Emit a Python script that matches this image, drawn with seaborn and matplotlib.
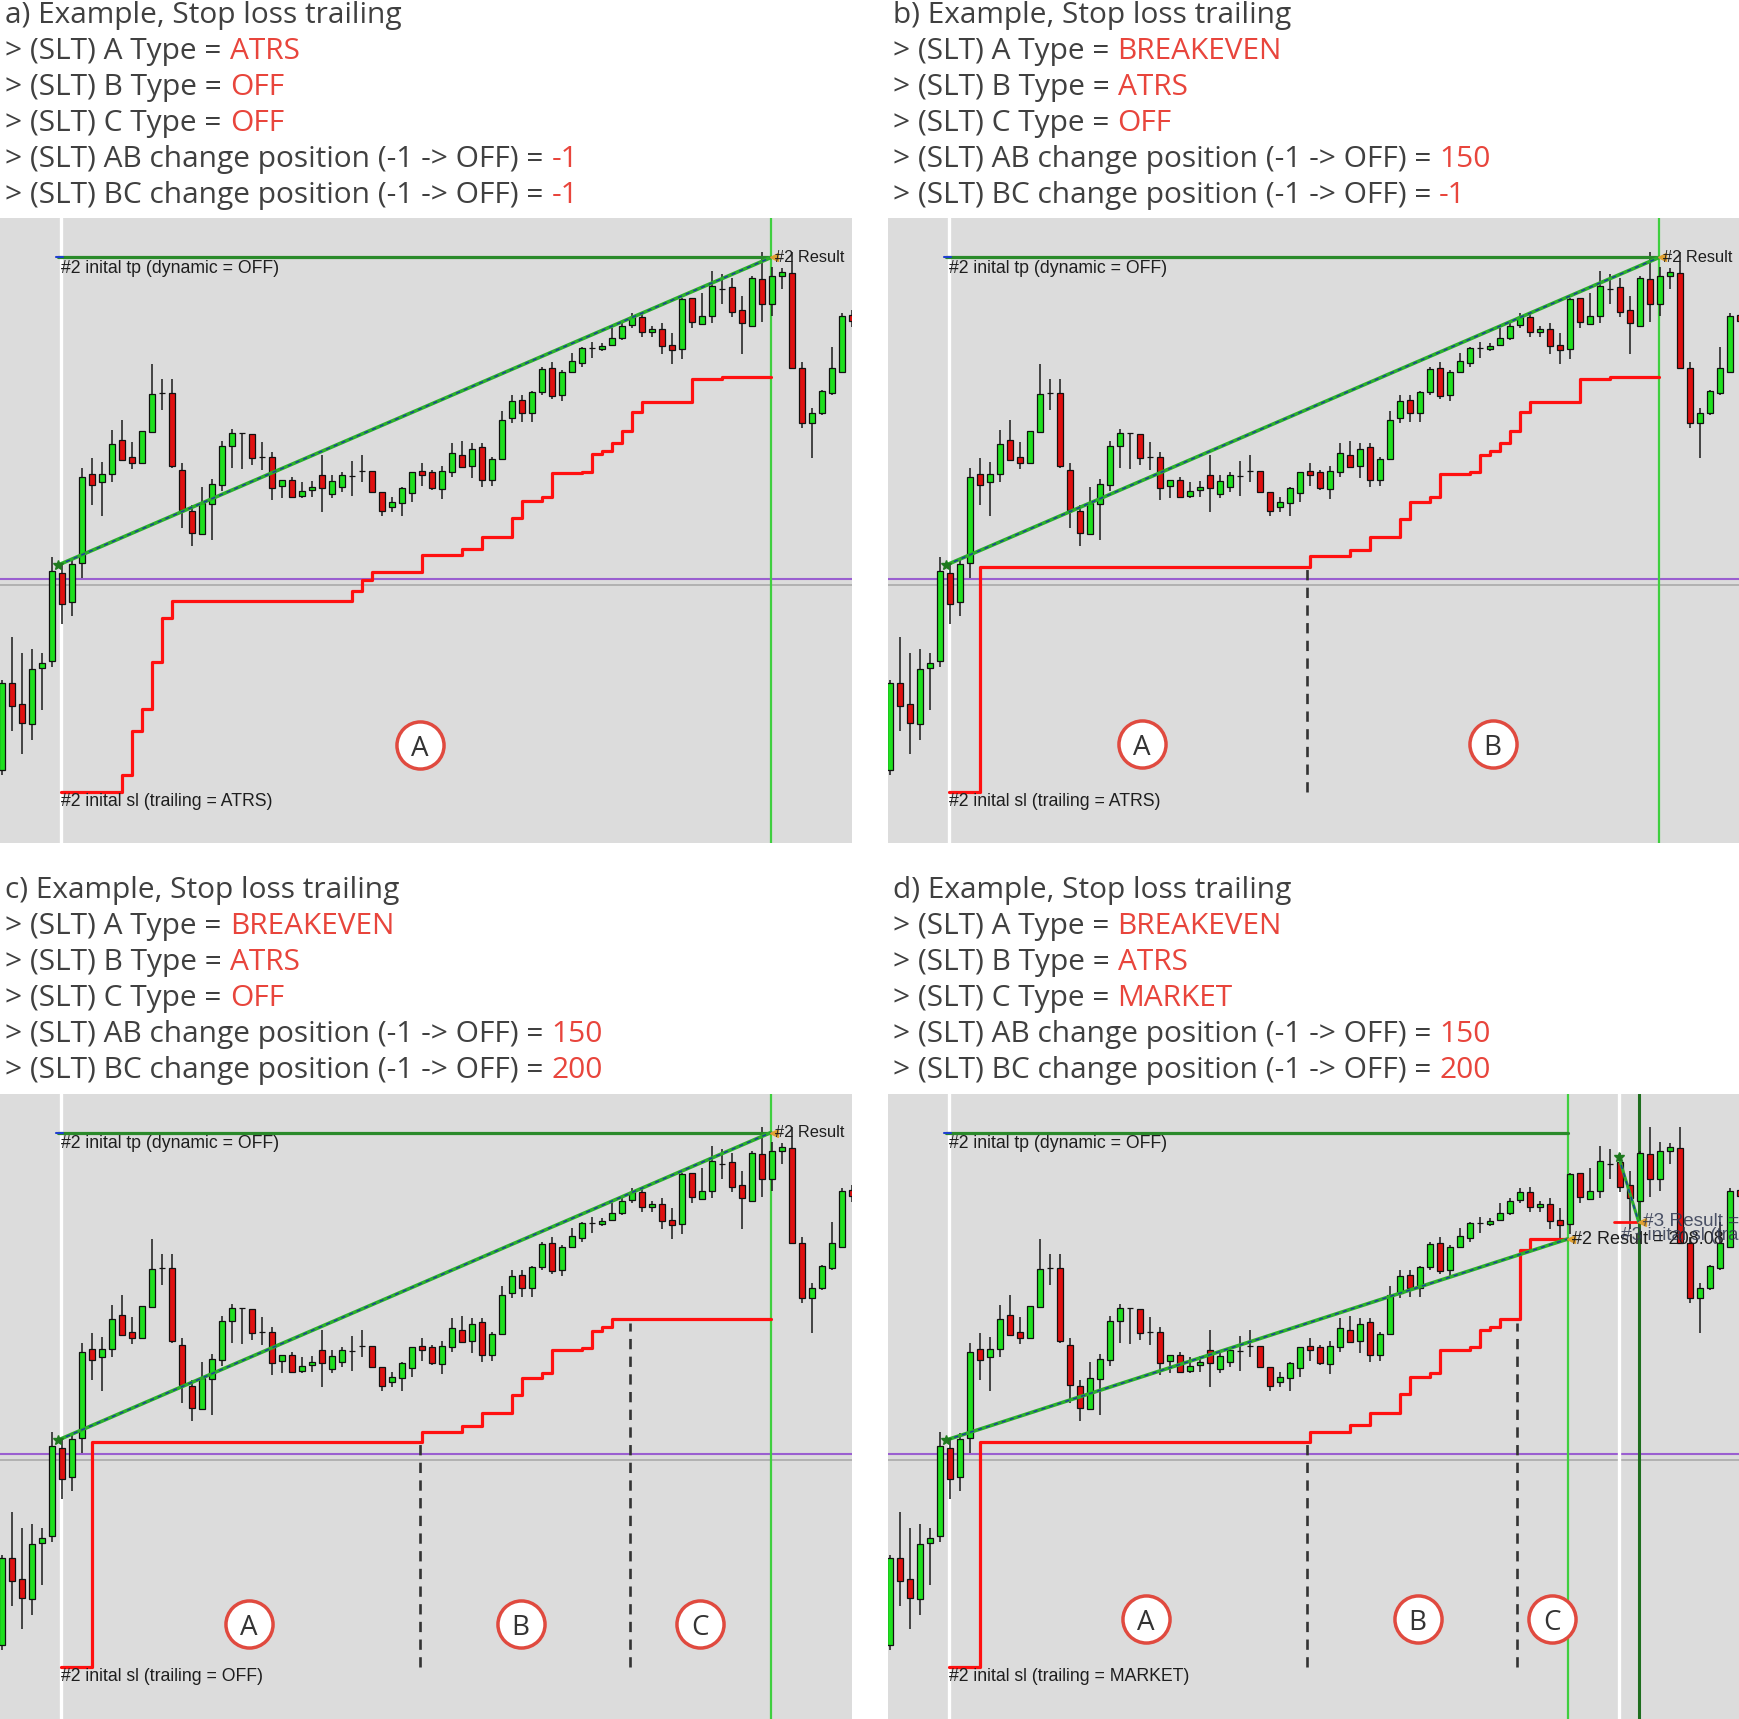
import numpy as np
import pandas as pd
import matplotlib
matplotlib.use("Agg")
import matplotlib.pyplot as plt
import seaborn as sns

W, H, DPI = 1740, 1719, 100

# ---------------- data (price levels) ----------------
bar_open = [72, 159, 138, 118, 174, 181, 269, 240, 279, 368,
            360, 368, 402, 385, 379, 410, 449, 449, 372, 331,
            308, 338, 357, 396, 409, 408, 385, 385, 356, 362,
            346, 352, 367, 348, 355, 366, 371, 371, 350, 335,
            339, 349, 371, 370, 353, 370, 387, 376, 395, 362,
            383, 424, 442, 429, 450, 474, 447, 470, 479, 494,
            493, 497, 504, 517, 525, 510, 513, 497, 493, 544,
            518, 526, 553, 555, 532, 516, 563, 538, 566, 569,
            474, 419, 429, 449, 470, 527]
bar_high = [162, 205, 189, 193, 189, 285, 277, 284, 374, 384,
            380, 412, 422, 400, 411, 478, 463, 463, 379, 337,
            355, 363, 401, 413, 409, 408, 400, 390, 362, 365,
            360, 361, 387, 367, 370, 381, 387, 371, 350, 345,
            355, 370, 379, 372, 376, 399, 401, 399, 399, 385,
            431, 447, 447, 451, 475, 480, 472, 489, 495, 500,
            499, 514, 519, 529, 530, 516, 519, 509, 544, 544,
            549, 571, 568, 564, 546, 566, 590, 575, 574, 590,
            480, 434, 452, 495, 529, 532]
bar_low = [67, 111, 88, 102, 132, 175, 218, 226, 264, 337,
           326, 360, 382, 373, 379, 410, 432, 374, 314, 296,
           307, 302, 351, 374, 373, 377, 372, 342, 344, 345,
           344, 345, 330, 344, 350, 346, 360, 350, 326, 330,
           326, 340, 356, 352, 343, 365, 375, 364, 355, 356,
           383, 419, 420, 420, 447, 443, 441, 470, 475, 484,
           491, 497, 502, 514, 505, 505, 488, 478, 483, 514,
           517, 519, 538, 525, 488, 516, 520, 526, 553, 474,
           414, 384, 427, 447, 470, 515]
bar_close = [159, 136, 119, 173, 179, 271, 238, 278, 365, 357,
             368, 398, 382, 379, 411, 448, 449, 376, 332, 309,
             339, 358, 396, 409, 409, 384, 385, 354, 362, 345,
             351, 355, 354, 361, 367, 366, 371, 350, 331, 340,
             354, 370, 367, 354, 371, 389, 375, 393, 362, 383,
             422, 441, 429, 450, 473, 446, 470, 481, 494, 494,
             496, 504, 516, 525, 510, 513, 496, 492, 543, 520,
             526, 556, 553, 530, 519, 564, 538, 566, 570, 474,
             419, 429, 451, 474, 526, 521]

tp_level = 584.5
entry_bar = 5.66
entry_price = 277
start_bar = 5.93          # white vertical line
exit_bar_abc = 76.93
exit_bar_d = 67.8
exit_price_d = 478
purple_level = 263.2
gray_level = 257

sl_a_bar = [5.93, 12, 13, 14, 15, 16, 17, 35, 36, 37, 42, 46, 48, 51, 52, 54, 55,
            58, 59, 60, 61, 62, 63, 64, 69, 72, 76.93]
sl_a_lvl = [50, 67, 111, 133, 180, 224, 241, 251, 262, 270, 287, 293, 305, 324, 341,
            345, 369, 370, 388, 391, 399, 411, 430, 440, 463, 465, 465]
sl_b_bar = [5.93, 9, 42, 46, 48, 51, 52, 54, 55, 58, 59, 60, 61, 62, 63, 64, 69, 72, 76.93]
sl_b_lvl = [50, 275, 286, 292, 305, 323, 340, 345, 368, 370, 387, 391, 399, 411, 430,
            440, 463, 465, 465]
sl_c_bar = [5.93, 9, 42, 46, 48, 51, 52, 54, 55, 58, 59, 60, 61, 76.93]
sl_c_lvl = [50, 275, 285, 291, 304, 322, 339, 344, 367, 369, 386, 390, 398, 398]
sl_d_bar = [5.93, 9, 42, 46, 48, 51, 52, 54, 55, 58, 59, 60, 61, 63, 64, 67.8]
sl_d_lvl = [50, 275, 285, 292, 304, 323, 340, 344, 367, 370, 387, 390, 398, 467, 478, 478]

dash_b = [41.7]
dash_c = [41.8, 62.8]
dash_d = [41.7, 62.7]
dash_tops = [274, 394]
dash_bottom = 50

circles_a = [("A", 41.8, 97)]
circles_b = [("A", 25.2, 98), ("B", 60.3, 98)]
circles_c = [("A", 24.7, 93), ("B", 51.9, 93), ("C", 69.8, 93)]
circles_d = [("A", 25.6, 98), ("B", 52.8, 98), ("C", 66.2, 98)]

titles = ["a) Example, Stop loss trailing", "b) Example, Stop loss trailing",
          "c) Example, Stop loss trailing", "d) Example, Stop loss trailing"]
param_labels = ["> (SLT) A Type =", "> (SLT) B Type =", "> (SLT) C Type =",
                "> (SLT) AB change position (-1 -> OFF) =",
                "> (SLT) BC change position (-1 -> OFF) ="]
values_a = ["ATRS", "OFF", "OFF", "-1", "-1"]
values_b = ["BREAKEVEN", "ATRS", "OFF", "150", "-1"]
values_c = ["BREAKEVEN", "ATRS", "OFF", "150", "200"]
values_d = ["BREAKEVEN", "ATRS", "MARKET", "150", "200"]
sl_labels = ["#2 inital sl (trailing = ATRS)", "#2 inital sl (trailing = ATRS)",
             "#2 inital sl (trailing = OFF)", "#2 inital sl (trailing = MARKET)"]

# trade #3 (panel d only)
t3_entry_bar, t3_entry_price = 72.9, 560
t3_exit_bar, t3_exit_price = 74.9, 495
t3_sl_start, t3_sl_end = 72.4, 74.7

# ---------------- styling ----------------
sns.set_theme(style="white")
plt.rcParams['font.family'] = ['Open Sans', 'DejaVu Sans']

GRAY_TXT = '#404040'
RED_TXT = '#e8453c'
BG = '#dcdcdc'
UP = '#1ee01e'
DN = '#e01010'

fig = plt.figure(figsize=(W / DPI, H / DPI), dpi=DPI)
fig.patch.set_facecolor('white')

tax = fig.add_axes([0, 0, 1, 1], zorder=-5)
tax.set_xlim(0, W)
tax.set_ylim(H, 0)
tax.axis('off')
tax.patch.set_alpha(0)

candles = pd.DataFrame({"bar": np.arange(len(bar_open)), "open": bar_open,
                        "high": bar_high, "low": bar_low, "close": bar_close})

HFS = 21.5
LFS = 12.7
RFS = 11.8


def header(x0, y0, title, values):
    tax.text(x0, y0, title, fontsize=HFS, color=GRAY_TXT, va='center', ha='left')
    for k, (lab, val) in enumerate(zip(param_labels, values)):
        y = y0 + 35.9 * (k + 1)
        t = tax.text(x0, y, lab, fontsize=HFS, color=GRAY_TXT, va='center', ha='left')
        tax.annotate(val, xy=(1, 0.5), xycoords=t, xytext=(0.26 * HFS, 0),
                     textcoords='offset points', fontsize=HFS, color=RED_TXT,
                     va='center', ha='left')


def panel(left, top, height, ylo, sl_bar, sl_lvl, dashes, circles, sl_label,
          exit_bar, exit_price, is_d=False):
    ax = fig.add_axes([left / W, 1 - (top + height) / H, 852 / W, height / H])
    ax.set_facecolor(BG)
    ax.set_xlim(-0.17, 85.03)
    ax.set_ylim(ylo, ylo + height)
    ax.set_xticks([])
    ax.set_yticks([])
    for s in ax.spines.values():
        s.set_visible(False)

    # horizontal price lines
    ax.axhline(gray_level, color='#a6a6a6', lw=1.1, zorder=1)
    ax.axhline(purple_level, color='#9a5fd0', lw=1.5, zorder=1.1)
    # vertical lines
    ax.axvline(start_bar, color='white', lw=2.4, zorder=1.2)
    ax.axvline(exit_bar, color='#3fcf3f', lw=1.6, zorder=1.3)
    if is_d:
        ax.axvline(t3_entry_bar, color='white', lw=2.4, zorder=1.2)
        ax.axvline(t3_exit_bar, color='#1e6e1e', lw=2.2, zorder=1.3)

    # candles
    ax.vlines(candles["bar"], candles["low"], candles["high"], color='#1a1a1a',
              lw=1.1, zorder=2)
    bottoms = np.minimum(candles["open"], candles["close"])
    heights = np.abs(candles["close"] - candles["open"])
    cols = [UP if c > o else (DN if c < o else '#1a1a1a')
            for o, c in zip(candles["open"], candles["close"])]
    ax.bar(candles["bar"], heights, bottom=bottoms, width=0.6, color=cols,
           edgecolor='#111111', linewidth=0.9, zorder=2.2)

    # take profit line
    tp_df = pd.DataFrame({"x": [entry_bar, exit_bar], "y": [tp_level, tp_level]})
    sns.lineplot(data=tp_df, x="x", y="y", color='#2a8a2a', lw=2.3, ax=ax, zorder=3)
    ax.plot([entry_bar - 0.2, entry_bar + 0.5], [tp_level, tp_level], color='#2040d0',
            lw=1.5, zorder=3.1)
    ax.text(entry_bar + 0.3, tp_level - 11, "#2 inital tp (dynamic = OFF)",
            fontsize=LFS, color='#1e1e1e', family='Liberation Sans', va='center',
            ha='left', zorder=5)

    # stop loss trailing line
    sl_df = pd.DataFrame({"x": sl_bar, "y": sl_lvl})
    sns.lineplot(data=sl_df, x="x", y="y", color='#ff1010', lw=2.3,
                 drawstyle='steps-post', ax=ax, zorder=3.5)
    ax.text(entry_bar + 0.3, 41, sl_label, fontsize=LFS, color='#1e1e1e',
            family='Liberation Sans', va='center', ha='left', zorder=5)

    # trade line #2
    ax.plot([entry_bar, exit_bar], [entry_price, exit_price], color='#2bb02b',
            lw=2.6, zorder=4)
    ax.plot([entry_bar, exit_bar], [entry_price, exit_price], color='#1a3aa0',
            lw=1.0, ls=(0, (3, 3)), zorder=4.1)
    ax.plot([entry_bar], [entry_price], marker='*', color='#1e7a1e', ms=7, zorder=4.5)
    ax.plot([exit_bar + 0.3], [exit_price], marker='<', color='#e0a030', ms=6,
            zorder=4.5)
    res_txt = "#2 Result = 208.08" if is_d else "#2 Result"
    ax.text(exit_bar + 0.4, exit_price, res_txt, fontsize=RFS + (1.2 if is_d else 0),
            color='#1e1e1e', family='Liberation Sans', va='center', ha='left',
            zorder=5, clip_on=True)

    if is_d:
        ax.plot([t3_sl_start, t3_sl_end], [t3_exit_price, t3_exit_price],
                color='#ff1010', lw=2.0, zorder=4)
        ax.plot([t3_entry_bar, t3_exit_bar], [t3_entry_price, t3_exit_price],
                color='#2bb02b', lw=2.2, zorder=4)
        ax.plot([t3_entry_bar, t3_exit_bar], [t3_entry_price, t3_exit_price],
                color='#1a3aa0', lw=1.0, ls=(0, (3, 3)), zorder=4.1)
        ax.plot([t3_entry_bar], [t3_entry_price], marker='*', color='#1e7a1e', ms=7,
                zorder=4.5)
        ax.plot([t3_exit_bar + 0.3], [t3_exit_price], marker='<', color='#e0a030',
                ms=6, zorder=4.5)
        ax.text(t3_exit_bar + 0.45, t3_exit_price, "#3 Result = 208.08",
                fontsize=LFS + 1, color='#303850', family='Liberation Sans',
                va='center', ha='left', zorder=5, clip_on=True, alpha=0.85)
        ax.text(t3_entry_bar + 0.2, t3_exit_price - 13, "#3 inital sl (trailing = ATRS)",
                fontsize=LFS + 1, color='#303850', family='Liberation Sans',
                va='center', ha='left', zorder=5, clip_on=True, alpha=0.85)

    # phase separators
    for xd, top_lvl in zip(dashes, dash_tops):
        ax.plot([xd, xd], [dash_bottom, top_lvl], color='#333333', lw=1.9,
                ls=(0, (3.9, 2.8)), zorder=3.2)

    # phase circles
    for letter, cx, cy in circles:
        ax.scatter([cx], [cy], s=1150, facecolor='white', edgecolor='#e04a3f',
                   linewidths=2.5, zorder=6)
        ax.text(cx, cy, letter, fontsize=20, color='#333333', ha='center',
                va='center_baseline', zorder=7)
    return ax


TOP1, H1 = 218.5, 624.5
TOP2, H2 = 1094, 625
panel(0, TOP1, H1, -1, sl_a_bar, sl_a_lvl, [], circles_a, sl_labels[0],
      exit_bar_abc, tp_level)
panel(888, TOP1, H1, -1, sl_b_bar, sl_b_lvl, dash_b, circles_b, sl_labels[1],
      exit_bar_abc, tp_level)
panel(0, TOP2, H2, -2, sl_c_bar, sl_c_lvl, dash_c, circles_c, sl_labels[2],
      exit_bar_abc, tp_level)
panel(888, TOP2, H2, -2, sl_d_bar, sl_d_lvl, dash_d, circles_d, sl_labels[3],
      exit_bar_d, exit_price_d, is_d=True)

header(5.5, 15.7, titles[0], values_a)
header(893, 15.7, titles[1], values_b)
header(5.5, 890.7, titles[2], values_c)
header(893, 890.7, titles[3], values_d)

fig.savefig("out.png", dpi=DPI, facecolor='white')
